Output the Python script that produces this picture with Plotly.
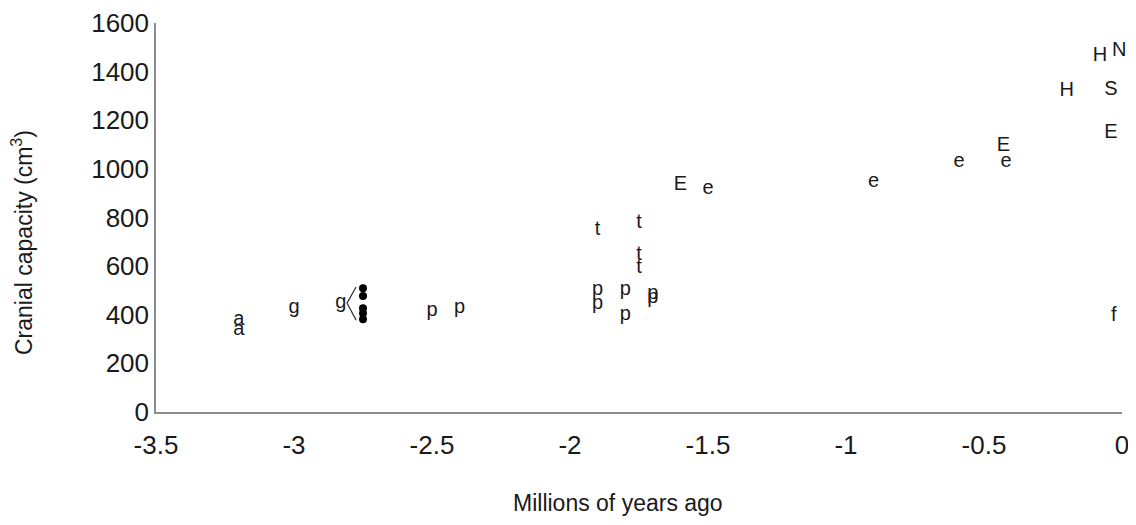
import plotly.graph_objects as go

# ---- data ----
labels = ['a', 'a', 'g', 'g', 'p', 'p',
          't', 't', 't', 't',
          'p', 'p', 'p', 'p', 'p', 'p',
          'E', 'e',
          'e', 'e', 'E', 'e',
          'E', 'H', 'N', 'H', 'S', 'f']
ages = [-3.20, -3.20, -3.00, -2.83, -2.50, -2.40,
        -1.90, -1.75, -1.75, -1.75,
        -1.90, -1.90, -1.80, -1.80, -1.70, -1.70,
        -1.60, -1.50,
        -0.90, -0.59, -0.43, -0.42,
        -0.04, -0.08, -0.01, -0.20, -0.04, -0.03]
capacities = [380, 337, 428, 448, 417, 429,
              749, 777, 646, 591,
              503, 445, 502, 399, 486, 468,
              932, 918,
              944, 1029, 1094, 1029,
              1149, 1463, 1486, 1320, 1324, 396]

dot_ages = [-2.75, -2.75, -2.75, -2.75, -2.75]
dot_caps = [509, 477, 427, 406, 381]

bracket_ages = [-2.775, -2.808, -2.775]
bracket_caps = [514, 448, 378]

x_tickvals = [-3.5, -3, -2.5, -2, -1.5, -1, -0.5, 0]
x_ticktext = ['-3.5', '-3', '-2.5', '-2', '-1.5', '-1', '-0.5', '0']
y_tickvals = [0, 200, 400, 600, 800, 1000, 1200, 1400, 1600]
y_ticktext = ['0', '200', '400', '600', '800', '1000', '1200', '1400', '1600']

FONT = "Liberation Sans, Arial, Helvetica, sans-serif"
INK = "#1a1a1a"

# the page body has an 8px margin; figure is sized/offset to compensate
W, H = 1128, 517
L, R, T, B = 148, 14, 15, 113
PW = W - L - R
PH = H - T - B

fig = go.Figure()
fig.add_trace(go.Scatter(
    x=ages, y=capacities, mode='text', text=labels,
    textposition='middle center',
    textfont=dict(family=FONT, size=20, color=INK),
    cliponaxis=False, showlegend=False, hoverinfo='skip'))
fig.add_trace(go.Scatter(
    x=bracket_ages, y=bracket_caps, mode='lines',
    line=dict(color='#333333', width=1.2),
    showlegend=False, hoverinfo='skip'))
fig.add_trace(go.Scatter(
    x=dot_ages, y=dot_caps, mode='markers',
    marker=dict(symbol='circle', size=8, color='#000000'),
    showlegend=False, hoverinfo='skip'))

axis_common = dict(showgrid=False, zeroline=False, showline=True,
                   linecolor='#8c8c8c', linewidth=1.5, ticks='',
                   automargin=False,
                   tickfont=dict(family=FONT, size=26, color=INK))

fig.update_layout(
    width=W, height=H,
    margin=dict(l=L, r=R, t=T, b=B, autoexpand=False),
    paper_bgcolor='white', plot_bgcolor='white',
    xaxis=dict(range=[-3.5, 0], tickvals=x_tickvals, ticktext=x_ticktext,
               ticklabelstandoff=9, **axis_common),
    yaxis=dict(range=[0, 1600], tickvals=y_tickvals, ticktext=y_ticktext,
               ticklabelstandoff=0, **axis_common),
    annotations=[
        dict(text='Millions of years ago', xref='paper', yref='paper',
             x=(618 - 156) / PW, y=-(503 - 412) / PH,
             showarrow=False, xanchor='center', yanchor='middle',
             font=dict(family=FONT, size=23, color=INK)),
        dict(text='Cranial capacity (cm<sup>3</sup>)', xref='paper', yref='paper',
             x=-(156 - 22) / PW, y=(412 - 243) / PH,
             textangle=-90, showarrow=False, xanchor='center', yanchor='middle',
             font=dict(family=FONT, size=23, color=INK)),
    ],
)

fig.write_html("out.html")
